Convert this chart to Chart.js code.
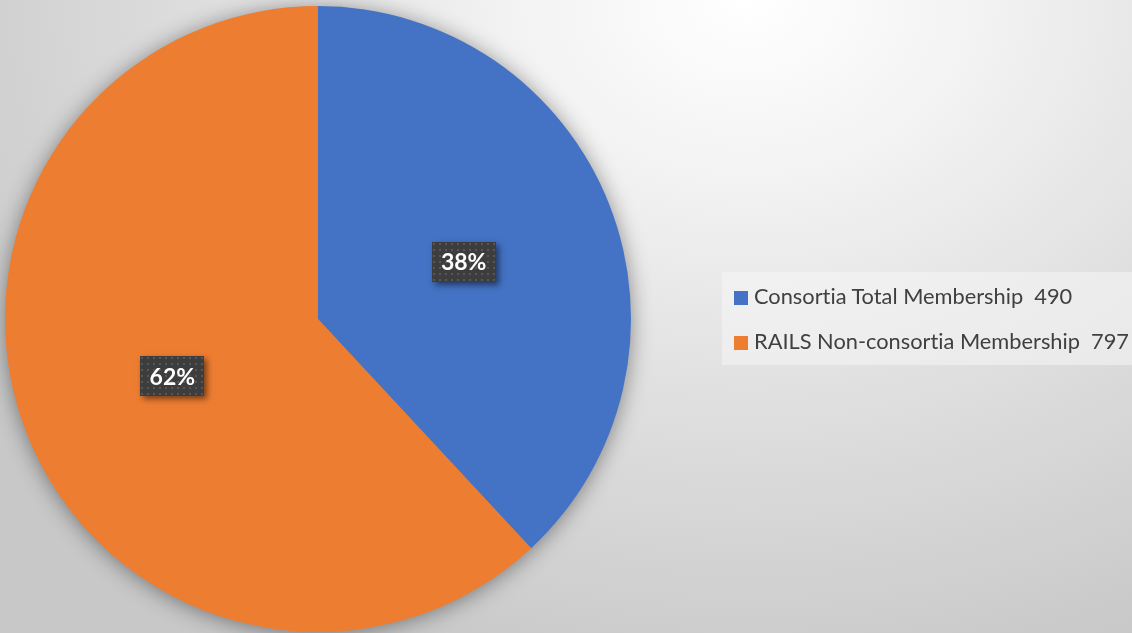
<!DOCTYPE html>
<html>
<head>
<meta charset="utf-8">
<script src="https://cdn.jsdelivr.net/npm/chart.js@4.4.1/dist/chart.umd.min.js"></script>
<style>
  html, body { margin: 0; padding: 0; }
  body {
    width: 1132px; height: 633px; overflow: hidden; position: relative;
    background: radial-gradient(ellipse 900px 700px at 66% 0%, #ffffff 0%, #f3f3f3 25%, #dedede 60%, #c8c8c8 100%);
  }
  #wrap { position: absolute; left: 0; top: 0; width: 1132px; height: 633px; }
  #legend {
    position: absolute; left: 722px; top: 272px; width: 410px; height: 93px;
    background: rgba(245,245,245,0.55);
    font-family: Lato, "Noto Sans", sans-serif; font-size: 21.8px; color: #404040;
    font-variant-ligatures: none; font-feature-settings: "liga" 0, "clig" 0;
  }
  .item { position: absolute; left: 12px; height: 26px; line-height: 26px; white-space: pre; }
  .sw { display: inline-block; width: 14px; height: 14px; margin-right: 6px; vertical-align: -1px; }
</style>
</head>
<body>
<div id="wrap"><canvas id="c" width="1132" height="633"></canvas></div>
<div id="legend"></div>
<script>
const categories = ["Consortia Total Membership", "RAILS Non-consortia Membership"];
const values = [490, 797];
const colors = ["#4472C4", "#ED7D31"];

// legend (real text)
const legend = document.getElementById('legend');
const tops = [11, 56];
categories.forEach((c, i) => {
  const d = document.createElement('div');
  d.className = 'item';
  d.style.top = tops[i] + 'px';
  d.innerHTML = '<span class="sw" style="background:' + colors[i] + '"></span>' + c + '  ' + values[i];
  legend.appendChild(d);
});

// dotted pattern for label boxes
function makePattern(ctx) {
  const t = document.createElement('canvas');
  t.width = 6; t.height = 6;
  const g = t.getContext('2d');
  g.fillStyle = '#3d3d3d'; g.fillRect(0, 0, 6, 6);
  g.fillStyle = '#575757'; g.fillRect(1, 1, 2, 2);
  return ctx.createPattern(t, 'repeat');
}

const pieShadow = {
  id: 'pieShadow',
  beforeDatasetsDraw(chart) {
    const meta = chart.getDatasetMeta(0);
    const a = meta.data[0];
    if (!a) return;
    const ctx = chart.ctx;
    ctx.save();
    ctx.shadowColor = 'rgba(0,0,0,0.45)';
    ctx.shadowBlur = 22;
    ctx.shadowOffsetX = 0;
    ctx.shadowOffsetY = 2;
    ctx.fillStyle = '#888';
    ctx.beginPath();
    ctx.arc(a.x, a.y, a.outerRadius - 1, 0, Math.PI * 2);
    ctx.fill();
    ctx.restore();
  }
};

const pctLabels = {
  id: 'pctLabels',
  afterDatasetsDraw(chart) {
    const ctx = chart.ctx;
    const meta = chart.getDatasetMeta(0);
    const ds = chart.data.datasets[0].data;
    const total = ds.reduce((s, v) => s + v, 0);
    const pat = makePattern(ctx);
    meta.data.forEach((arc, i) => {
      const p = arc.tooltipPosition();
      const txt = Math.round(ds[i] / total * 100) + '%';
      const w = 64, h = 40;
      const x = Math.round(p.x - w / 2), y = Math.round(p.y - h / 2);
      ctx.save();
      ctx.shadowColor = 'rgba(0,0,0,0.5)';
      ctx.shadowBlur = 6;
      ctx.shadowOffsetX = 3;
      ctx.shadowOffsetY = 3;
      ctx.fillStyle = '#3d3d3d';
      ctx.fillRect(x, y, w, h);
      ctx.restore();
      ctx.save();
      ctx.fillStyle = pat;
      ctx.translate(x, y);
      ctx.fillRect(0, 0, w, h);
      ctx.restore();
      ctx.save();
      ctx.fillStyle = '#ffffff';
      ctx.font = 'bold 23px Lato, "Noto Sans", sans-serif';
      ctx.textAlign = 'center';
      ctx.textBaseline = 'middle';
      ctx.fillText(txt, p.x, p.y + 1);
      ctx.restore();
    });
  }
};

new Chart(document.getElementById('c'), {
  type: 'pie',
  data: {
    labels: categories,
    datasets: [{ data: values, backgroundColor: colors, borderWidth: 0 }]
  },
  options: {
    responsive: false,
    animation: false,
    layout: { padding: { left: 5, top: 6, right: 501, bottom: 1 } },
    plugins: { legend: { display: false }, tooltip: { enabled: false } }
  },
  plugins: [pieShadow, pctLabels]
});
</script>
</body>
</html>
